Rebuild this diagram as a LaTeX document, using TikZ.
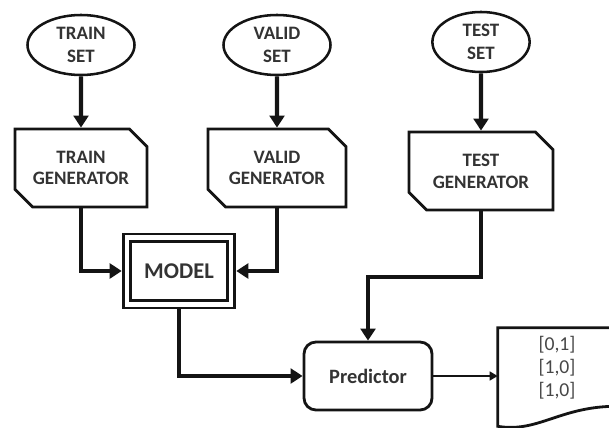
\documentclass[tikz,border=0pt]{standalone}
\usepackage{fontspec}
\setmainfont{Carlito}
\usetikzlibrary{positioning,shapes.geometric,shapes.misc,arrows.meta,calc}
\definecolor{inkgray}{RGB}{51,51,51}
\definecolor{linegray}{RGB}{20,20,20}

\begin{document}
\begin{tikzpicture}[x=0.025cm, y=-0.025cm,
    setnode/.style={ellipse, draw=linegray, line width=1.8pt, minimum width=2.675cm, minimum height=1.5cm,
        inner sep=1pt, align=center, text=inkgray, font=\bfseries\fontsize{13.5}{16.5}\selectfont},
    gennode/.style={chamfered rectangle, chamfered rectangle corners={north east,south west},
        chamfered rectangle xsep=0.22cm, chamfered rectangle ysep=0.22cm,
        draw=linegray, line width=2pt, minimum height=1.95cm, align=center, text=inkgray,
        font=\bfseries\fontsize{13.5}{15.5}\selectfont},
    modelnode/.style={rectangle, draw=linegray, line width=2pt, double, double distance=3.5pt, outer sep=3.75pt,
        minimum width=2.6cm, minimum height=1.66cm, text=inkgray, font=\bfseries\fontsize{16}{18}\selectfont},
    prednode/.style={rectangle, rounded corners=0.3cm, draw=linegray, line width=2pt,
        minimum width=3.2cm, minimum height=1.7cm, text=inkgray, font=\bfseries\fontsize{14.5}{16}\selectfont},
    outnode/.style={rectangle, minimum width=2.95cm, minimum height=2cm, align=center, text=inkgray!90,
        font=\fontsize{14}{16.5}\selectfont},
    flow/.style={draw=linegray, line width=3pt, -{Triangle[length=0.3cm,width=0.37cm]}},
    thinflow/.style={draw=linegray, line width=1.4pt, -{Triangle[length=0.2cm,width=0.22cm]}},
]
    \useasboundingbox (0,0) rectangle (609,427);

    % data sets
    \node[setnode] (trainset) at (81,45) {TRAIN\\SET};
    \node[setnode] (validset) at (277,45) {VALID\\SET};
    \node[setnode, minimum width=2.43cm] (testset) at (481,42) {TEST\\SET};

    % generators
    \node[gennode, minimum width=3.3cm] (traingen) at (81,168) {TRAIN\\GENERATOR};
    \node[gennode, minimum width=3.45cm] (validgen) at (277,168) {VALID\\GENERATOR};
    \node[gennode, minimum width=3.6cm] (testgen) at (481,171) {TEST\\GENERATOR};

    % model and prediction
    \node[modelnode] (model) at (179,271) {MODEL};
    \node[prednode] (pred) at (368,376) {Predictor};
    \node[outnode] (out) at (557,368) {{[0,1]}\\{[1,0]}\\{[1,0]}};
    \coordinate (testbend) at (368,277);

    \draw[flow] (trainset) -- (traingen);
    \draw[flow] (validset) -- (validgen);
    \draw[flow] (testset) -- (testgen);

    \draw[flow] (traingen.south) |- (model.west);
    \draw[flow] (validgen.south) |- (model.east);
    \draw[flow] (testgen.south) |- (testbend) -- (pred.north);
    \draw[flow] (model.south) |- (pred.west);

    \draw[thinflow] (pred.east) -- (pred.east -| out.west);

    % document outline
    \draw[draw=linegray, line width=2pt] (out.north east) -- (out.north west)
        -- ([yshift=-0.45cm]out.south west)
        .. controls ([xshift=1cm,yshift=-0.62cm]out.south west) and ([xshift=-1.4cm,yshift=0.05cm]out.south east)
        .. ([yshift=0.05cm]out.south east) -- cycle;
\end{tikzpicture}
\end{document}
